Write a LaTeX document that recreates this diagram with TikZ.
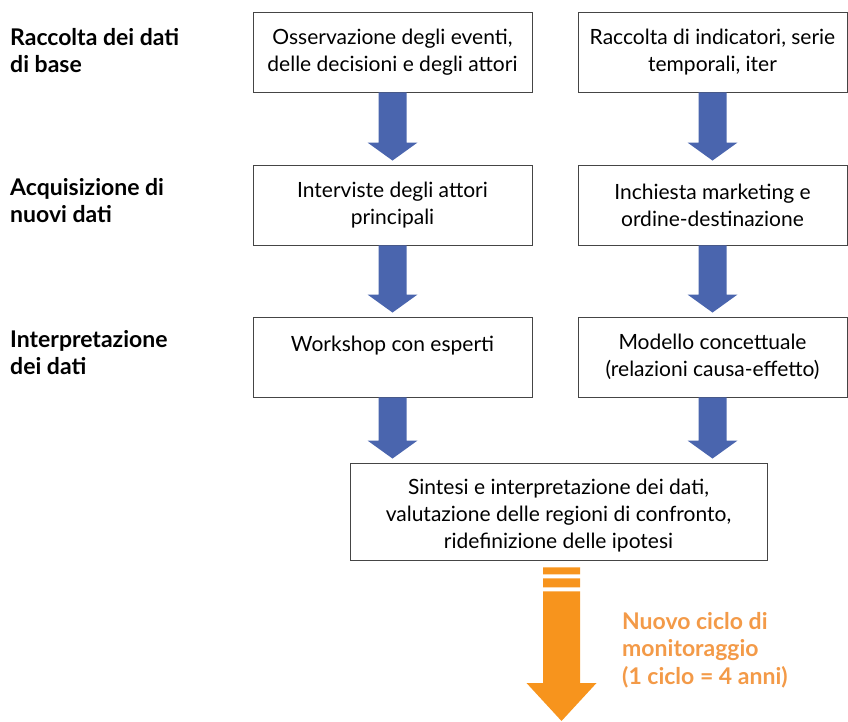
\documentclass[tikz,border=0pt]{standalone}
\usepackage{fontspec}
\setmainfont{Lato}
\usetikzlibrary{calc}
\definecolor{arrowblue}{HTML}{4A65AE}
\definecolor{arroworange}{HTML}{F7941D}
\definecolor{textorange}{HTML}{F39A48}
\definecolor{boxline}{HTML}{454545}
\newcommand{\blockarrow}[2]{%
  \fill[arrowblue] let \p1=(#1.south), \p2=(#2.north) in
    (\x1-14pt,\y1) -- (\x1+14pt,\y1) -- (\x1+14pt,\y2+22pt) -- (\x1+25pt,\y2+22pt)
    -- (\x1,\y2+4pt) -- (\x1-25pt,\y2+22pt) -- (\x1-14pt,\y2+22pt) -- cycle;
}
\begin{document}
\begin{tikzpicture}[x=1pt,y=-1pt,
  box/.style={draw=boxline, line width=0.9pt, inner sep=0pt, align=center,
    font=\fontsize{21}{27}\selectfont},
  lab/.style={anchor=north west, inner sep=0pt, align=left,
    font=\fontsize{23}{27}\selectfont\bfseries},
  note/.style={anchor=north west, inner sep=0pt, align=left, text=textorange,
    font=\fontsize{23}{27.5}\selectfont\bfseries}]
\useasboundingbox (0,0) rectangle (848,722);
% left labels
\node[lab] (l1) at (10,28) {Raccolta dei dati\\di base};
\node[lab] (l2) at (10,178) {Acquisizione di\\nuovi dati};
\node[lab] (l3) at (10,330) {Interpretazione\\dei dati};
% boxes
\node[box, minimum width=279pt, minimum height=80pt] (a1) at (392.5,52)
  {Osservazione degli eventi,\\delle decisioni e degli attori};
\node[box, minimum width=269pt, minimum height=80pt] (b1) at (712.5,52)
  {Raccolta di indicatori, serie\\temporali, iter};
\node[box, minimum width=279pt, minimum height=80pt] (a2) at (392.5,205)
  {Interviste degli attori\\principali};
\node[box, minimum width=269pt, minimum height=80pt] (b2) at (712.5,205)
  {Inchiesta marketing e\\ordine-destinazione};
\node[box, minimum width=279pt, minimum height=80pt] (a3) at (392.5,357)
  {Workshop con esperti\\\mbox{}};
\node[box, minimum width=269pt, minimum height=80pt] (b3) at (712.5,357)
  {Modello concettuale\\(relazioni causa-effetto)};
\node[box, minimum width=417pt, minimum height=97pt] (s) at (558.5,511.5)
  {\rule{0pt}{24pt}Sintesi e interpretazione dei dati,\\valutazione delle regioni di confronto,\\ridefinizione delle ipotesi};
% blue arrows
\blockarrow{a1}{a2}
\blockarrow{b1}{b2}
\blockarrow{a2}{a3}
\blockarrow{b2}{b3}
\blockarrow{a3}{s}
\blockarrow{b3}{s}
% orange arrow
\coordinate (otip) at (561.5,721);
\fill[arroworange] let \p1=(s.south), \p2=(otip) in
  (\x2-18.5pt,\y1-7pt) rectangle (\x2+18.5pt,\y1-14pt)
  (\x2-18.5pt,\y1-18pt) rectangle (\x2+18.5pt,\y1-27pt)
  (\x2-18.5pt,\y1-31pt) -- (\x2+18.5pt,\y1-31pt) -- (\x2+18.5pt,\y2+38pt)
  -- (\x2+35pt,\y2+38pt) -- (\x2,\y2) -- (\x2-35pt,\y2+38pt)
  -- (\x2-18.5pt,\y2+38pt) -- cycle;
\node[note] (n) at (622,612) {Nuovo ciclo di\\monitoraggio\\(1 ciclo = 4 anni)};
\end{tikzpicture}
\end{document}
